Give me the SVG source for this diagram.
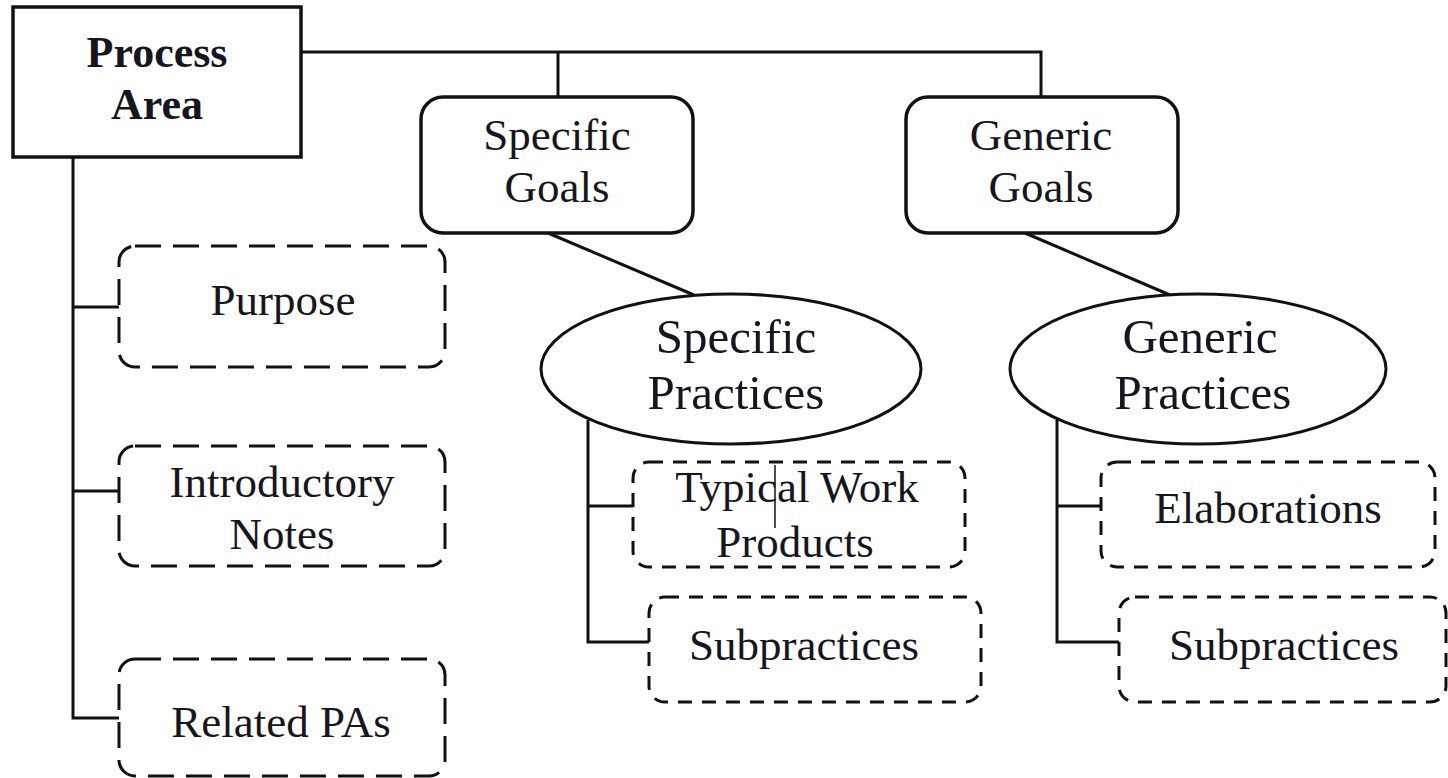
<svg xmlns="http://www.w3.org/2000/svg" width="1448" height="778" viewBox="0 0 1448 778">
  <style>
    .solid { fill: #fff; stroke: #111; stroke-width: 3.5; }
    .dash-long { fill: #fff; stroke: #111; stroke-width: 3; stroke-dasharray: 26 12; }
    .dash-short { fill: #fff; stroke: #111; stroke-width: 3; stroke-dasharray: 14 10; }
    .wire { fill: none; stroke: #111; stroke-width: 3; }
    .lbl { font-family: "Liberation Serif", "Times New Roman", serif; font-size: 45px; fill: #161622; text-anchor: middle; }
    .bold { font-weight: bold; font-size: 44px; }
    .big { font-size: 49px; }
  </style>
  <rect width="1448" height="778" fill="#fff"/>

  <g id="connectors">
    <!-- top bus from Process Area to both goal boxes -->
    <polyline class="wire" points="300,52 1041,52 1041,97"/>
    <line class="wire" x1="558" y1="52" x2="558" y2="97"/>
    <!-- goals to practices -->
    <line class="wire" x1="548" y1="233" x2="694" y2="295"/>
    <line class="wire" x1="1025" y1="233" x2="1170" y2="295"/>
    <!-- Process Area spine -->
    <polyline class="wire" points="73,157 73,718 120,718"/>
    <line class="wire" x1="73" y1="307" x2="120" y2="307"/>
    <line class="wire" x1="73" y1="491" x2="120" y2="491"/>
    <!-- Specific Practices spine -->
    <polyline class="wire" points="588,420 588,642 649,642"/>
    <line class="wire" x1="588" y1="506" x2="633" y2="506"/>
    <!-- Generic Practices spine -->
    <polyline class="wire" points="1057,420 1057,642 1119,642"/>
    <line class="wire" x1="1057" y1="506" x2="1101" y2="506"/>
  </g>

  <g id="process-area">
    <rect class="solid" x="13" y="7" width="288" height="150"/>
    <text class="lbl bold" x="157" y="67">Process</text>
    <text class="lbl bold" x="157" y="119">Area</text>
  </g>

  <g id="specific-goals">
    <rect class="solid" x="421" y="97" width="272" height="136" rx="22"/>
    <text class="lbl" x="557" y="150">Specific</text>
    <text class="lbl" x="557" y="202">Goals</text>
  </g>

  <g id="generic-goals">
    <rect class="solid" x="906" y="97" width="272" height="136" rx="22"/>
    <text class="lbl" x="1041" y="150">Generic</text>
    <text class="lbl" x="1041" y="202">Goals</text>
  </g>

  <g id="purpose">
    <rect class="dash-long" x="119" y="246" width="326" height="121" rx="16"/>
    <text class="lbl" x="283" y="315">Purpose</text>
  </g>

  <g id="introductory-notes">
    <rect class="dash-long" x="119" y="446" width="326" height="120" rx="16"/>
    <text class="lbl" x="282" y="497">Introductory</text>
    <text class="lbl" x="282" y="549">Notes</text>
  </g>

  <g id="related-pas">
    <rect class="dash-long" x="119" y="659" width="326" height="117" rx="16"/>
    <text class="lbl" x="281" y="737">Related PAs</text>
  </g>

  <g id="specific-practices">
    <ellipse class="solid" cx="731" cy="369" rx="190" ry="75" style="stroke-width:3"/>
    <text class="lbl big" x="736" y="353">Specific</text>
    <text class="lbl big" x="736" y="409">Practices</text>
  </g>

  <g id="generic-practices">
    <ellipse class="solid" cx="1198" cy="369" rx="188" ry="75" style="stroke-width:3"/>
    <text class="lbl big" x="1200" y="353">Generic</text>
    <text class="lbl big" x="1203" y="409">Practices</text>
  </g>

  <g id="typical-work-products">
    <rect class="dash-short" x="633" y="462" width="332" height="105" rx="16"/>
    <text class="lbl" x="797" y="502">Typical Work</text>
    <text class="lbl" x="795" y="557">Products</text>
    <line x1="775" y1="465" x2="775" y2="528" stroke="#111" stroke-width="1.5"/>
  </g>

  <g id="specific-subpractices">
    <rect class="dash-short" x="649" y="597" width="332" height="105" rx="16"/>
    <text class="lbl" x="804" y="660">Subpractices</text>
  </g>

  <g id="elaborations">
    <rect class="dash-short" x="1101" y="462" width="334" height="105" rx="16"/>
    <text class="lbl" x="1268" y="523">Elaborations</text>
  </g>

  <g id="generic-subpractices">
    <rect class="dash-short" x="1119" y="597" width="327" height="105" rx="16"/>
    <text class="lbl" x="1284" y="660">Subpractices</text>
  </g>
</svg>
